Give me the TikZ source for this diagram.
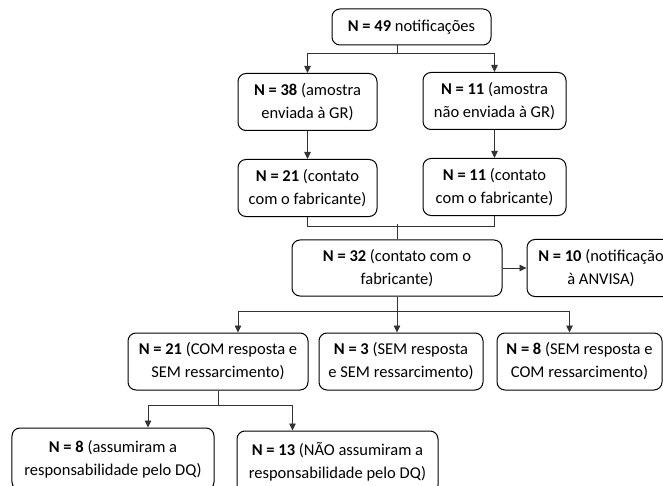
\documentclass[tikz,border=0pt]{standalone}
\usepackage{fontspec}
\setmainfont{Carlito}
\usetikzlibrary{positioning, arrows.meta}
\tikzset{
  box/.style={
    draw, rounded corners=8bp, line width=1bp, align=center,
    font=\fontsize{16.5bp}{23bp}\selectfont, inner sep=2bp, minimum height=57bp
  },
  link/.style={-{Triangle[length=7bp,width=6.5bp]}, draw=black!80, line width=0.8bp},
  plain/.style={draw=black!80, line width=0.8bp},
  node distance=28bp
}

\begin{document}
\begin{tikzpicture}[x=1bp,y=-1bp]
      \useasboundingbox (0,0) rectangle (663,486);

      \node[box, minimum width=159bp, minimum height=36bp] (n49) at (411.5,27) {\textbf{N = 49} notificações};
      \node[box, minimum width=139bp] (n38) at (307.5,102) {\textbf{N = 38} (amostra\\enviada à GR)};
      \node[box, minimum width=143bp] (n11a) at (494.5,101) {\textbf{N = 11} (amostra\\não enviada à GR)};
      \node[box, minimum width=139bp, below = of n38] (n21) {\textbf{N = 21} (contato\\com o fabricante)};
      \node[box, minimum width=143bp, below = of n11a] (n11b) {\textbf{N = 11} (contato\\com o fabricante)};
      \node[box, minimum width=210bp, minimum height=56bp] (n32) at (397,268) {\textbf{N = 32} (contato com o\\fabricante)};
      \node[box, minimum width=148bp, right = 24bp of n32] (n10) {\textbf{N = 10} (notificação\\à ANVISA)};
      \node[box, minimum width=180bp] (n21c) at (218,361.5) {\textbf{N = 21} (COM resposta e\\SEM ressarcimento)};
      \node[box, minimum width=164bp, right = 10bp of n21c] (n3) {\textbf{N = 3} (SEM resposta\\e SEM ressarcimento)};
      \node[box, minimum width=165bp, right = 13bp of n3] (n8a) {\textbf{N = 8} (SEM resposta e\\COM ressarcimento)};
      \node[box, minimum width=202bp, minimum height=62bp] (n8b) at (113,459) {\textbf{N = 8} (assumiram a\\responsabilidade pelo DQ)};
      \node[box, minimum width=201bp, minimum height=62bp] (n13) at (337.5,462) {\textbf{N = 13} (NÃO assumiram a\\responsabilidade pelo DQ)};

      \draw[link] (n49.south -| n32) -- ++(0,8) -| (n38);
      \draw[link] (n49.south -| n32) -- ++(0,8) -| (n11a);
      \draw[link] (n38) -- (n21);
      \draw[link] (n11a) -- (n11b);
      \draw[plain] (n21.south) -- ++(0,9) -| (n11b.south);
      \draw[plain] (n32.north) ++(0,-15) -- (n32.north);
      \draw[link] (n32) -- (n10);
      \draw[link] (n32.south) -- ++(0,15) -| ([xshift=20bp]n21c.north);
      \draw[link] (n32.south) -- (n32.south |- n3.north);
      \draw[link] (n32.south) -- ++(0,15) -| ([xshift=-10bp]n8a.north);
      \draw[link] (n21c.south) -- ++(0,15) -| ([xshift=35bp]n8b.north);
      \draw[link] (n21c.south) -- ++(0,15) -| ([xshift=-45bp]n13.north);

    \end{tikzpicture}
\end{document}
